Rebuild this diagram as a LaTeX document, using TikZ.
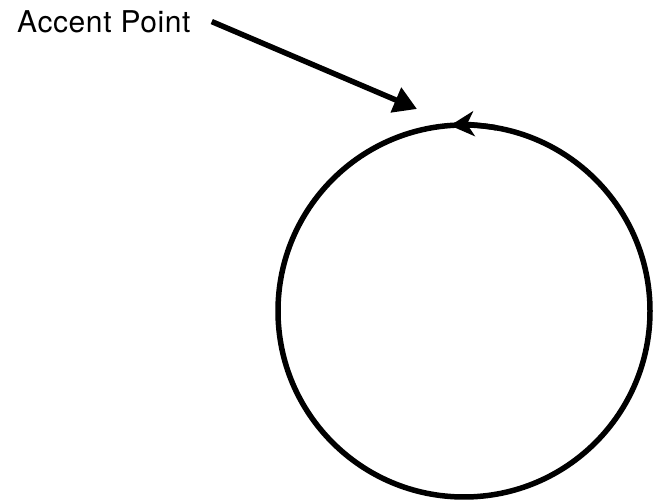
\documentclass[tikz,border=0pt]{standalone}
\usepackage{fontspec}
\setmainfont{TeX Gyre Heros}
\usetikzlibrary{arrows.meta}

\begin{document}
\begin{tikzpicture}[
  x=1pt,y=1pt,
  label/.style={anchor=base west,inner xsep=21pt,inner ysep=0pt,font=\fontsize{30}{34}\selectfont\addfontfeature{LetterSpace=2}},
  ring/.style={draw,circle,line width=5.5pt,minimum size=372pt,inner sep=0pt},
  pointer/.style={-{Triangle[length=23pt,width=26pt]},line width=5.5pt},
  turn/.style={-{Stealth[length=24pt,width=25pt,inset=7pt]},line width=5.5pt}
]
\useasboundingbox (0,0) rectangle (653,502);
\node[label] (accentlabel) at (-4,469.7) {Accent Point};
\node[ring] (orbit) at (464,191) {};
\coordinate (accent) at (417,393);
\draw[pointer] (accentlabel.east) -- (accent);
\draw[turn] ([shift={(80:186)}]orbit.center) arc[start angle=80,end angle=94.3,radius=186];
\end{tikzpicture}
\end{document}
